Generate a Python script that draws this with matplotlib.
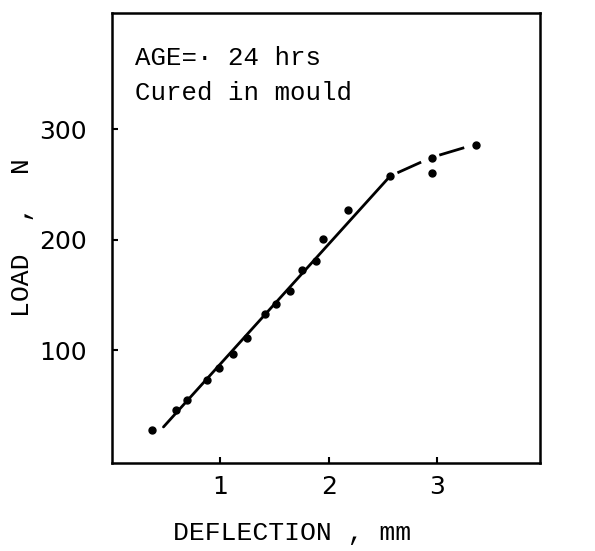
import matplotlib
matplotlib.use("Agg")
import matplotlib.pyplot as plt

# Load-deflection readings (mm, N)
deflection = [0.37, 0.59, 0.69, 0.88, 0.99, 1.12, 1.25, 1.41, 1.51, 1.64,
              1.75, 1.88, 1.95, 2.18, 2.57, 2.95, 2.95, 3.36]
load = [28, 46, 55, 73, 84, 97, 111, 133, 142, 154,
        173, 181, 201, 227, 258, 274, 260, 286]

# Straight part of the curve, then the dashed tail
fit_x = [0.475, 2.567]
fit_y = [30.6, 257.5]
tail_x = [2.567, 2.95, 3.36]
tail_y = [257.5, 274.4, 286.4]

x_ticks = [1, 2, 3]
y_ticks = [100, 200, 300]

MONO = "Liberation Mono"
LW = 2.0
px = 0.72 / LW  # dash lengths are scaled by the line width

fig = plt.figure(figsize=(5.95, 5.51), dpi=100)
ax = fig.add_axes([112 / 595, 88 / 551, 428 / 595, 450 / 551])

ax.plot(fit_x, fit_y, color="black", lw=LW, solid_capstyle="round")
# one dash between each pair of tail points
for i in range(len(tail_x) - 1):
    ax.plot(tail_x[i:i + 2], tail_y[i:i + 2], color="black", lw=LW,
            linestyle=(38 * px, (26 * px, 20 * px)))
ax.plot(deflection, load, "o", color="black", ms=5, mec="black")

ax.set_xlim(0, 3.95)
ax.set_ylim(-2, 405)
ax.set_xticks(x_ticks)
ax.set_yticks(y_ticks)
ax.tick_params(direction="in", length=4, width=1.5, labelsize=18)
ax.tick_params(axis="y", pad=18)
ax.tick_params(axis="x", pad=9)
for spine in ax.spines.values():
    spine.set_linewidth(1.8)

ax.set_xlabel("DEFLECTION , mm", fontfamily=MONO, fontsize=19)
ax.xaxis.label.set_va("center")
ax.xaxis.set_label_coords(0.4217, -0.1556)
ax.set_ylabel("LOAD  ,  N", fontfamily=MONO, fontsize=19)
ax.yaxis.label.set_va("center")
ax.yaxis.set_label_coords(-0.21, 0.5)

ax.text(0.0537, 0.884, "AGE=\u00b7 24 hrs", transform=ax.transAxes,
        fontfamily=MONO, fontsize=18.5, va="baseline")
ax.text(0.0537, 0.8067, "Cured in mould", transform=ax.transAxes,
        fontfamily=MONO, fontsize=18.5, va="baseline")

fig.savefig("out.png", dpi=100)
